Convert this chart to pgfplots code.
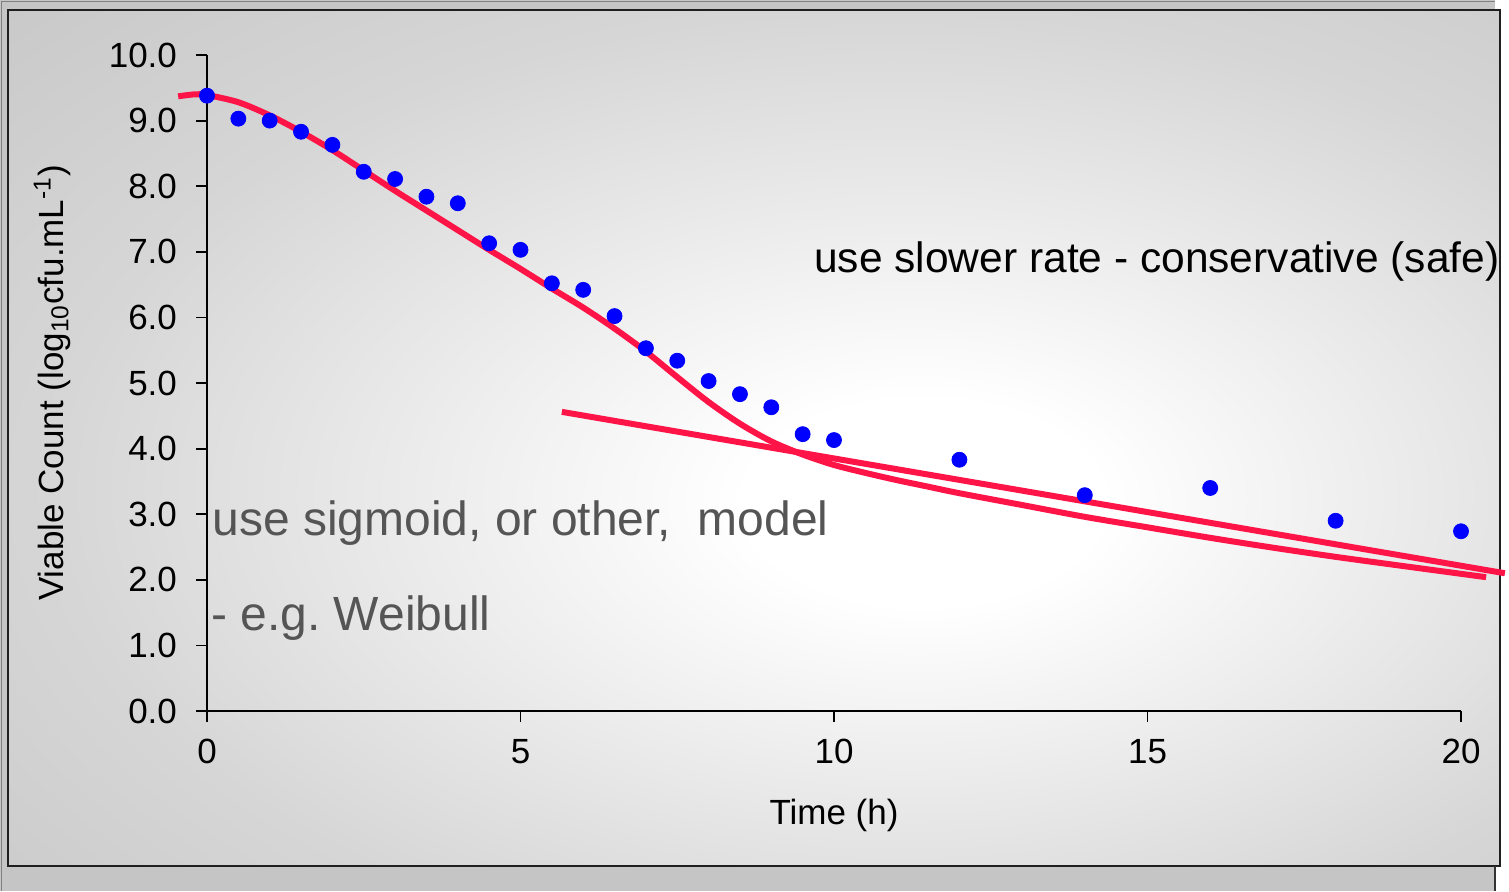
\documentclass[border=0pt]{standalone}
\usepackage{fontspec}
\setmainfont{Liberation Sans}
\usepackage{pgfplots}
\pgfplotsset{compat=1.18}
\definecolor{fitred}{HTML}{FF1447}
\definecolor{bgout}{HTML}{BEBEBE}
\definecolor{bgmid}{HTML}{D6D6D6}
\definecolor{notegray}{HTML}{555555}
\pgfdeclareradialshading{bgshade}{\pgfpoint{6bp}{-4bp}}{color(0bp)=(white); color(6bp)=(white); color(28bp)=(bgmid); color(50bp)=(bgout); color(110bp)=(bgout)}

\pgfplotstableread{
x y
0 9.38
0.5 9.03
1 9.0
1.5 8.83
2 8.63
2.5 8.22
3 8.11
3.5 7.84
4 7.74
4.5 7.13
5 7.03
5.5 6.52
6 6.42
6.5 6.02
7 5.53
7.5 5.34
8 5.03
8.5 4.83
9 4.63
9.5 4.22
10 4.13
12 3.83
14 3.29
16 3.40
18 2.90
20 2.74
}\counts

\pgfplotstableread{
x y
-0.46 9.37
-0.2 9.40
0 9.39
0.5 9.28
1.0 9.08
1.5 8.83
2.0 8.55
2.5 8.24
3.0 7.93
3.5 7.63
4.0 7.33
4.5 7.03
5.0 6.74
5.5 6.44
6.0 6.15
6.5 5.83
7.0 5.48
7.5 5.09
8.0 4.71
8.5 4.38
9.0 4.11
9.5 3.91
10.0 3.75
10.5 3.63
11.0 3.52
11.5 3.42
12.0 3.32
13.0 3.14
14.0 2.96
15.0 2.80
16.0 2.64
17.0 2.49
18.0 2.35
19.0 2.22
20.4 2.04
}\sigmoid

\pgfplotstableread{
x y
5.66 4.56
20.70 2.10
}\slowrate

\begin{document}
\begin{tikzpicture}
\useasboundingbox (-103.5pt,-90pt) rectangle (651pt,355.5pt);
\fill[white] (-103.5pt,-90pt) rectangle (651pt,355.5pt);
\fill[bgout!90!white] (-103.5pt,-90pt) rectangle (644pt,355.5pt);
\draw[gray, line width=0.8pt] (-102.8pt,-90pt) -- (-102.8pt,354.8pt) -- (644pt,354.8pt);
\shade[shading=bgshade] (-99.5pt,-77.5pt) rectangle (646.5pt,350.5pt);
\draw[black!88, line width=1.25pt] (-99.5pt,-77.5pt) rectangle (646.5pt,350.5pt);
\draw[black!80, line width=0.8pt] (644pt,-77.5pt) -- (644pt,-90pt);
\begin{axis}[
  at={(0,0)}, anchor=south west,
  scale only axis, width=627pt, height=328pt,
  xmin=0, xmax=20, ymin=0, ymax=10,
  clip=false,
  axis x line*=bottom, axis y line*=left,
  axis line style={line width=1pt, black},
  tick align=outside, major tick length=5.5pt,
  tick style={line width=0.9pt, black},
  xtick={0,5,10,15,20}, ytick={0,1,...,10},
  /pgf/number format/assume math mode=true,
  tick label style={font=\fontsize{17.5}{20}\selectfont, black},
  x tick label style={yshift=-5pt},
  y tick label style={xshift=-6pt, /pgf/number format/.cd, fixed, fixed zerofill, precision=1, assume math mode=true, /tikz/.cd},
  xlabel={Time (h)},
  ylabel={Viable Count (log\textsubscript{10}cfu.mL\textsuperscript{-1})},
  label style={font=\fontsize{17.5}{20}\selectfont},
  xlabel style={at={(axis description cs:0.5,-0.1585)}, anchor=center},
  ylabel style={at={(axis description cs:-0.1236,0.5)}, anchor=center},
]
\addplot[only marks, mark=*, mark size=3.75pt, blue, mark options={draw=blue, fill=blue}] table {\counts};
\addplot[fitred, line width=3pt, smooth, tension=0.5, no marks] table {\sigmoid};
\addplot[fitred, line width=3pt, no marks] table {\slowrate};
\node[anchor=base west, inner sep=0pt, font=\fontsize{21.25}{24}\selectfont] at (axis cs:9.68,6.69) {use slower rate - conservative (safe)};
\node[anchor=base west, inner sep=0pt, text=notegray, font=\fontsize{24}{28}\selectfont] at (axis cs:0.08,2.68) {use sigmoid, or other, \ model};
\node[anchor=base west, inner sep=0pt, text=notegray, font=\fontsize{24}{28}\selectfont] at (axis cs:0.06,1.23) {- e.g.\ Weibull};
\end{axis}
\end{tikzpicture}
\end{document}
